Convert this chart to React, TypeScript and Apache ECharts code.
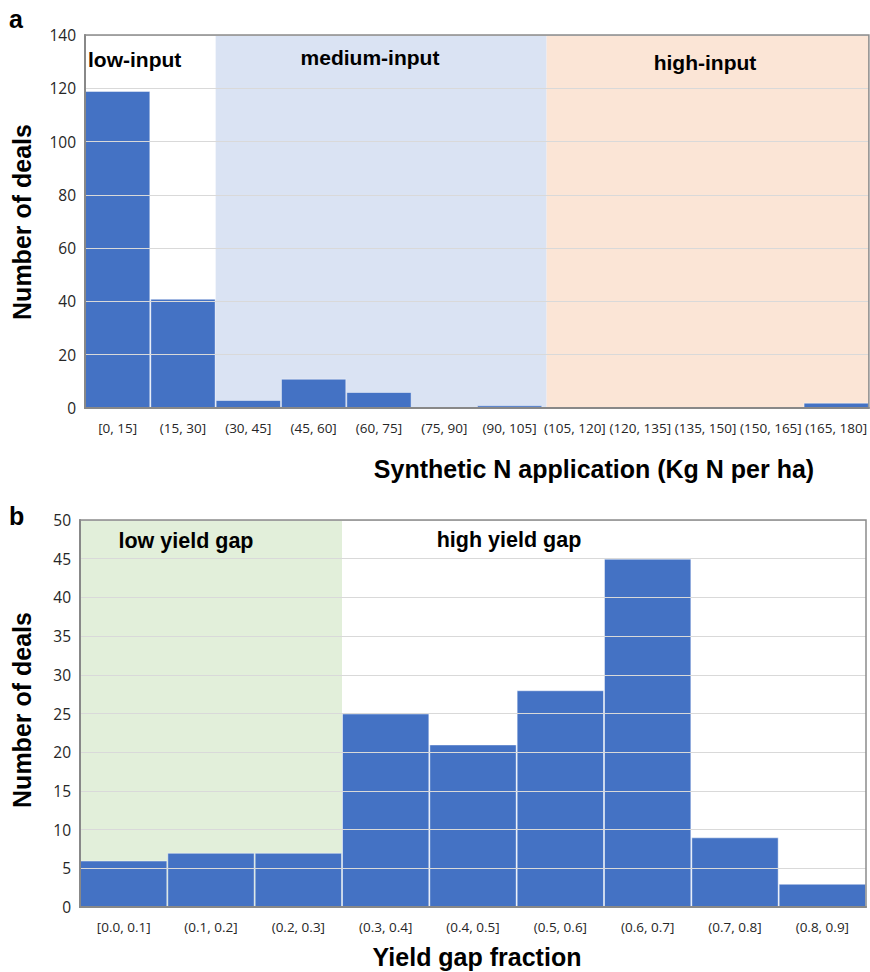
import React, { useEffect, useRef } from "react";
import * as echarts from "echarts";

// ---- Panel a data ----
const topCategories = [
  "[0, 15]", "(15, 30]", "(30, 45]", "(45, 60]", "(60, 75]", "(75, 90]",
  "(90, 105]", "(105, 120]", "(120, 135]", "(135, 150]", "(150, 165]", "(165, 180]",
];
const topCounts = [119, 41, 3, 11, 6, 0, 1, 0, 0, 0, 0, 2];
const topYMax = 140;
const topYStep = 20;
const topXRange = [0, 180];
// input-class regions in kg N per ha
const topRegionBounds = [
  [30, 106],
  [106, 180],
];
const topRegionNames = ["low-input", "medium-input", "high-input"];

// ---- Panel b data ----
const bottomCategories = [
  "[0.0, 0.1]", "(0.1, 0.2]", "(0.2, 0.3]", "(0.3, 0.4]", "(0.4, 0.5]",
  "(0.5, 0.6]", "(0.6, 0.7]", "(0.7, 0.8]", "(0.8, 0.9]",
];
const bottomCounts = [6, 7, 7, 25, 21, 28, 45, 9, 3];
const bottomYMax = 50;
const bottomYStep = 5;
const bottomXRange = [0, 0.9];
const bottomRegionBounds = [[0, 0.3]];
const bottomRegionNames = ["low yield gap", "high yield gap"];

const BAR = "#4472C4";
const TITLE_FONT = "'Liberation Sans', Arial, sans-serif";
const TICK_FONT = "'Open Sans', 'Noto Sans', sans-serif";

export default function App() {
  const ref = useRef<HTMLDivElement>(null);

  useEffect(() => {
    if (!ref.current) return;
    const chart = echarts.init(ref.current, null, { renderer: "svg" });

    const grid0 = { left: 85, top: 35, width: 786, height: 373 };
    const grid1 = { left: 80, top: 520, width: 786, height: 387 };

    const catAxis = (gridIndex: number, data: string[]) => ({
      type: "category",
      gridIndex,
      data,
      axisTick: { show: false },
      axisLine: { show: true, lineStyle: { color: "#7f7f7f", width: 2 } },
      axisLabel: {
        color: "#262626",
        fontFamily: TICK_FONT,
        fontSize: 13.5,
        margin: 13,
        interval: 0,
      },
      splitLine: { show: false },
      z: 3,
    });

    const valXAxis = (gridIndex: number, range: number[]) => ({
      type: "value",
      gridIndex,
      min: range[0],
      max: range[1],
      show: false,
      splitLine: { show: false },
    });

    const yAxis = (gridIndex: number, max: number, step: number, margin: number) => ({
      type: "value",
      gridIndex,
      min: 0,
      max,
      interval: step,
      axisTick: { show: false },
      axisLine: { show: true, lineStyle: { color: "#7f7f7f", width: 2 } },
      axisLabel: {
        color: "#262626",
        fontFamily: TICK_FONT,
        fontSize: 15.5,
        margin,
      },
      splitLine: { show: true, lineStyle: { color: "#d9d9d9", width: 1 } },
      z: 3,
    });

    const txt = (x: number, y: number, text: string, size: number, align = "center", rotation = 0) => ({
      type: "text",
      x,
      y,
      rotation,
      z: 100,
      zlevel: 0,
      style: {
        text,
        font: `bold ${size}px ${TITLE_FONT}`,
        fill: "#000",
        align,
        verticalAlign: "middle",
      },
    });

    const barData = (arr: number[]) => arr.map((v) => (v === 0 ? "-" : v));

    const option: any = {
      animation: false,
      backgroundColor: "#ffffff",
      grid: [
        { ...grid0, show: true, borderColor: "#8c8c8c", borderWidth: 1.5, backgroundColor: "transparent", z: 4 },
        { ...grid1, show: true, borderColor: "#8c8c8c", borderWidth: 1.5, backgroundColor: "transparent", z: 4 },
      ],
      xAxis: [
        catAxis(0, topCategories),
        valXAxis(0, topXRange),
        catAxis(1, bottomCategories),
        valXAxis(1, bottomXRange),
      ],
      yAxis: [yAxis(0, topYMax, topYStep, 9), yAxis(1, bottomYMax, bottomYStep, 9)],
      series: [
        {
          type: "line",
          xAxisIndex: 1,
          yAxisIndex: 0,
          data: [],
          z: -1,
          silent: true,
          markArea: {
            silent: true,
            data: topRegionBounds.map((b, i) => [
              { xAxis: b[0], itemStyle: { color: i === 0 ? "#DAE3F3" : "#FBE5D6" } },
              { xAxis: b[1] },
            ]),
          },
        },
        {
          type: "line",
          xAxisIndex: 3,
          yAxisIndex: 1,
          data: [],
          z: -1,
          silent: true,
          markArea: {
            silent: true,
            data: bottomRegionBounds.map((b) => [
              { xAxis: b[0], itemStyle: { color: "#E2EFDA" } },
              { xAxis: b[1] },
            ]),
          },
        },
        {
          type: "bar",
          xAxisIndex: 0,
          yAxisIndex: 0,
          data: barData(topCounts),
          barCategoryGap: "0%",
          itemStyle: { color: BAR, borderColor: "rgba(255,255,255,0.45)", borderWidth: 1 },
          z: 2,
        },
        {
          type: "bar",
          xAxisIndex: 2,
          yAxisIndex: 1,
          data: barData(bottomCounts),
          barCategoryGap: "0%",
          itemStyle: { color: BAR, borderColor: "rgba(255,255,255,0.45)", borderWidth: 1 },
          z: 2,
        },
      ],
      graphic: {
        elements: [
          txt(9, 19, "a", 25, "left"),
          txt(9, 516, "b", 25, "left"),
          txt(22, 222, "Number of deals", 25, "center", Math.PI / 2),
          txt(22, 710, "Number of deals", 25, "center", Math.PI / 2),
          txt(594, 469, "Synthetic N application (Kg N per ha)", 25),
          txt(477, 957, "Yield gap fraction", 25),
          txt(88, 59, topRegionNames[0], 21, "left"),
          txt(370, 57, topRegionNames[1], 21),
          txt(705, 62, topRegionNames[2], 21),
          txt(186, 541, bottomRegionNames[0], 21.5),
          txt(509, 540, bottomRegionNames[1], 21.5),
        ],
      },
    };

    chart.setOption(option);
    return () => chart.dispose();
  }, []);

  return (
    <div
      ref={ref}
      style={{ position: "absolute", left: 0, top: 0, width: 870, height: 972, background: "#fff" }}
    />
  );
}
